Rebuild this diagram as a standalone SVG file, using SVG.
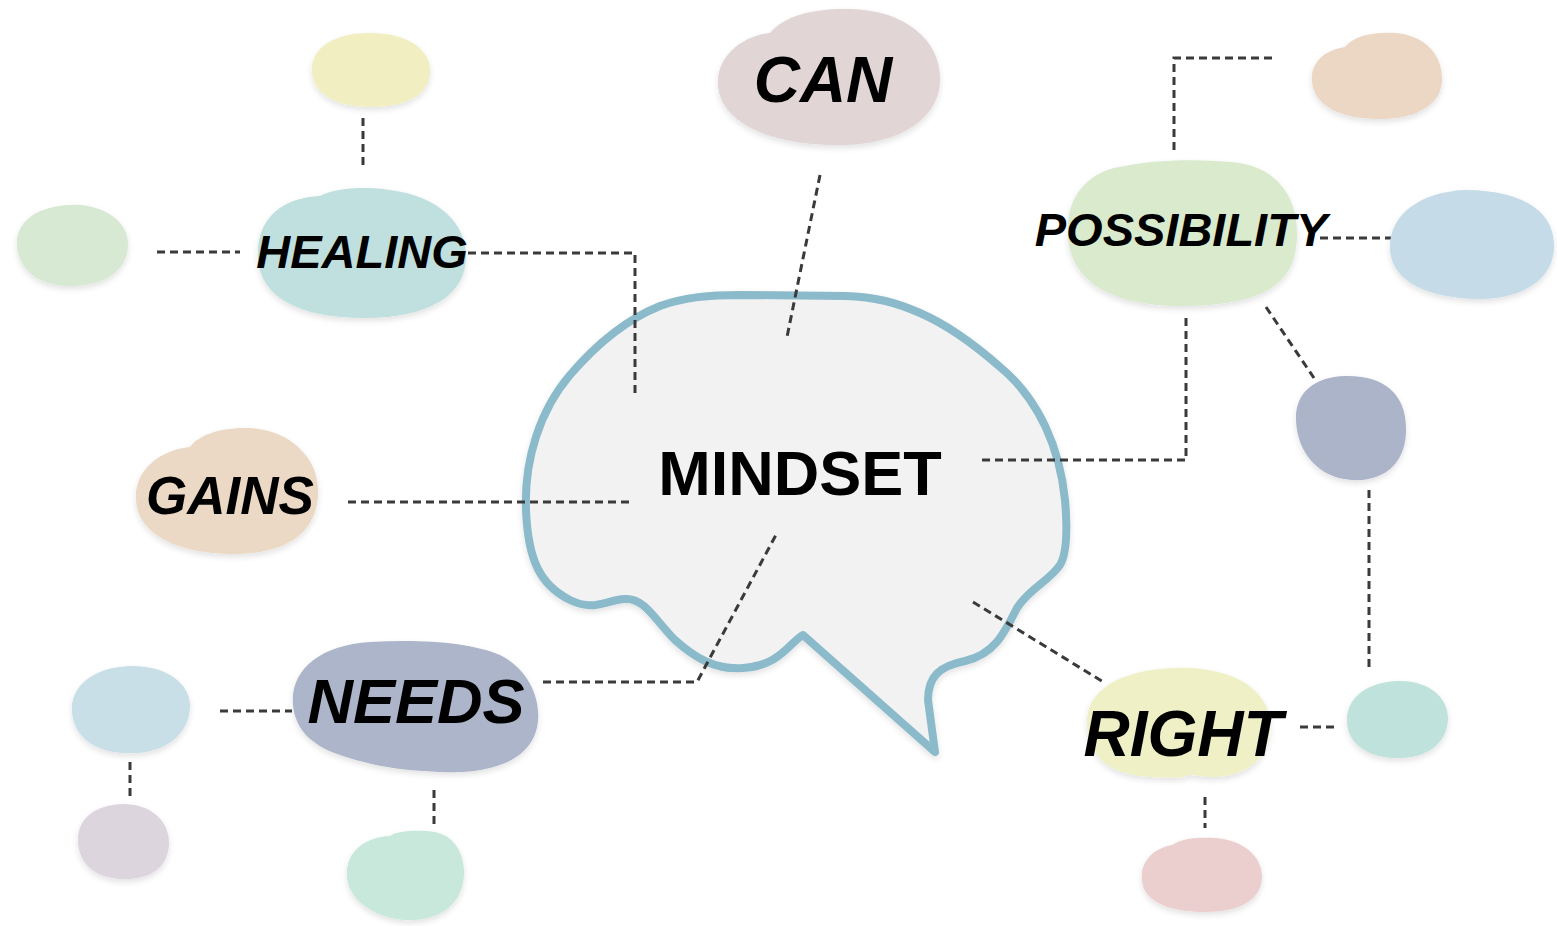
<svg xmlns="http://www.w3.org/2000/svg" width="1557" height="926" viewBox="0 0 1557 926">
<defs>
<filter id="soft" x="-10%" y="-10%" width="120%" height="125%">
<feGaussianBlur in="SourceAlpha" stdDeviation="3"/>
<feOffset dx="0" dy="3" result="b"/>
<feComponentTransfer><feFuncA type="linear" slope="0.12"/></feComponentTransfer>
<feMerge><feMergeNode/><feMergeNode in="SourceGraphic"/></feMerge>
</filter>
</defs>
<style>
.blob{filter:url(#soft)}
.conn{fill:none;stroke:#3a3a3a;stroke-width:3;stroke-dasharray:8 5}
.lbl{font-family:"Liberation Sans",Arial,sans-serif;font-weight:bold;font-style:italic;fill:#000}
.brain{fill:#f2f2f2;stroke:#8bbacb;stroke-width:8;stroke-linejoin:round}
</style>
<rect width="1557" height="926" fill="#ffffff"/>

<g id="brain">
<path class="brain" filter="url(#soft)" d="M740,295 L845,296 C875,297 895,302 920,313 C950,326 975,345 1000,367 C1040,400 1060,450 1065,500 C1068,535 1066,555 1060,565 C1048,582 1030,588 1017,608 C1005,632 995,654 965,661 C940,666 928,676 928,700 L935,752 L803,635 C790,642 780,666 743,668 C715,670 695,658 675,640 C655,620 645,598 625,599 C605,600 595,612 570,600 C540,585 528,560 526,510 C524,460 540,410 570,375 C600,340 630,318 660,306 C685,297 710,295 740,295 Z"/>
<text x="800" y="495" text-anchor="middle" font-family="Liberation Sans, Arial, sans-serif" font-weight="bold" font-size="63" fill="#000">MINDSET</text>
</g>

<g id="connectors">
<path class="conn" d="M363,118 L363,165"/>
<path class="conn" d="M157,252 L240,252"/>
<path class="conn" d="M468,253 L635,253 L635,398"/>
<path class="conn" d="M820,175 L787,337"/>
<path class="conn" d="M1174,150 L1174,58 L1276,58"/>
<path class="conn" d="M1320,238 L1396,238"/>
<path class="conn" d="M1186,318 L1186,460 L982,460"/>
<path class="conn" d="M1266,307 L1314,378"/>
<path class="conn" d="M1369,490 L1369,668"/>
<path class="conn" d="M1300,727 L1336,727"/>
<path class="conn" d="M1205,797 L1205,828"/>
<path class="conn" d="M973,602 L1105,683"/>
<path class="conn" d="M348,502 L630,502"/>
<path class="conn" d="M543,682 L697,682 L777,533"/>
<path class="conn" d="M220,711 L292,711"/>
<path class="conn" d="M434,790 L434,825"/>
<path class="conn" d="M130,762 L130,800"/>
</g>

<g id="healing-top"><path class="blob" fill="#f1efc2" d="M312,72 C310,45 340,32 372,33 C405,33 430,48 430,70 C431,95 405,107 372,107 C338,107 314,96 312,72 Z"/></g>
<g id="healing-left"><path class="blob" fill="#d7e9d2" d="M17,246 C15,220 40,206 70,205 C100,203 128,220 128,243 C129,270 105,286 72,286 C42,287 19,272 17,246 Z"/></g>
<g id="healing">
<path class="blob" fill="#bfe0de" d="M258,258 C256,220 280,198 320,196 C335,188 365,186 390,190 C440,196 466,225 466,255 C467,295 430,318 365,318 C300,318 260,298 258,258 Z"/>
<text class="lbl" x="362" y="268" text-anchor="middle" font-size="47">HEALING</text>
</g>
<g id="can">
<path class="blob" fill="#e1d5d6" d="M718,85 C716,55 745,35 770,33 C785,15 815,8 850,9 C905,10 940,40 940,78 C941,118 900,145 840,145 C770,146 720,122 718,85 Z"/>
<text class="lbl" x="823" y="102" text-anchor="middle" font-size="64">CAN</text>
</g>
<g id="poss-top"><path class="blob" fill="#ecd7c5" d="M1312,82 C1310,62 1325,50 1345,47 C1355,35 1375,32 1395,33 C1425,35 1442,55 1442,78 C1443,105 1415,120 1378,119 C1340,119 1314,105 1312,82 Z"/></g>
<g id="possibility">
<path class="blob" fill="#d9eacd" d="M1068,236 C1065,195 1090,170 1125,166 C1150,160 1200,158 1240,163 C1280,170 1298,200 1297,236 C1296,280 1270,305 1185,306 C1110,307 1070,280 1068,236 Z"/>
<text class="lbl" x="1181" y="246" text-anchor="middle" font-size="47">POSSIBILITY</text>
</g>
<g id="poss-right"><path class="blob" fill="#c5dce8" d="M1390,250 C1388,215 1420,192 1465,190 C1520,190 1554,210 1554,245 C1555,280 1520,300 1478,299 C1428,298 1392,282 1390,250 Z"/></g>
<g id="poss-down"><path class="blob" fill="#abb4c9" d="M1296,420 C1295,392 1315,377 1345,376 C1385,375 1406,395 1406,428 C1407,462 1385,482 1352,480 C1318,478 1297,452 1296,420 Z"/></g>
<g id="gains">
<path class="blob" fill="#ecd9c5" d="M136,500 C134,470 160,450 190,447 C200,433 225,427 250,428 C290,430 318,458 318,490 C319,530 290,555 230,554 C170,553 137,530 136,500 Z"/>
<text class="lbl" x="230" y="514" text-anchor="middle" font-size="53">GAINS</text>
</g>
<g id="needs">
<path class="blob" fill="#adb5ca" d="M293,705 C290,670 320,645 370,642 C420,639 470,642 500,655 C530,670 540,700 538,720 C536,755 500,775 440,772 C395,770 370,765 340,755 C310,745 295,728 293,705 Z"/>
<text class="lbl" x="416" y="723" text-anchor="middle" font-size="63">NEEDS</text>
</g>
<g id="needs-left"><path class="blob" fill="#c8dfe8" d="M72,712 C70,685 95,667 130,666 C168,665 190,685 190,705 C190,735 165,752 135,753 C100,755 74,740 72,712 Z"/></g>
<g id="needs-left-down"><path class="blob" fill="#ddd5de" d="M78,842 C77,818 95,805 123,804 C152,804 170,822 169,844 C168,868 150,880 122,879 C95,878 79,864 78,842 Z"/></g>
<g id="needs-down"><path class="blob" fill="#c8e8dc" d="M347,877 C345,852 365,837 390,836 C398,830 420,830 435,832 C455,836 465,855 464,875 C463,900 445,918 415,920 C385,922 349,905 347,877 Z"/></g>
<g id="right">
<path class="blob" fill="#eff0c6" d="M1087,725 C1085,690 1120,670 1175,668 C1230,666 1268,688 1270,722 C1272,755 1250,776 1215,777 C1200,778 1190,772 1185,777 C1175,778 1160,778 1140,776 C1105,772 1088,752 1087,725 Z"/>
<text class="lbl" x="1183" y="756" text-anchor="middle" font-size="64">RIGHT</text>
</g>
<g id="right-right"><path class="blob" fill="#bfe2dc" d="M1347,722 C1346,697 1368,682 1398,681 C1428,680 1448,697 1448,718 C1448,742 1428,758 1400,758 C1370,759 1348,745 1347,722 Z"/></g>
<g id="right-down"><path class="blob" fill="#ebcfcf" d="M1142,880 C1140,860 1155,848 1172,845 C1182,838 1200,837 1215,838 C1245,840 1262,858 1262,876 C1262,900 1240,912 1205,912 C1170,912 1143,902 1142,880 Z"/></g>
</svg>
